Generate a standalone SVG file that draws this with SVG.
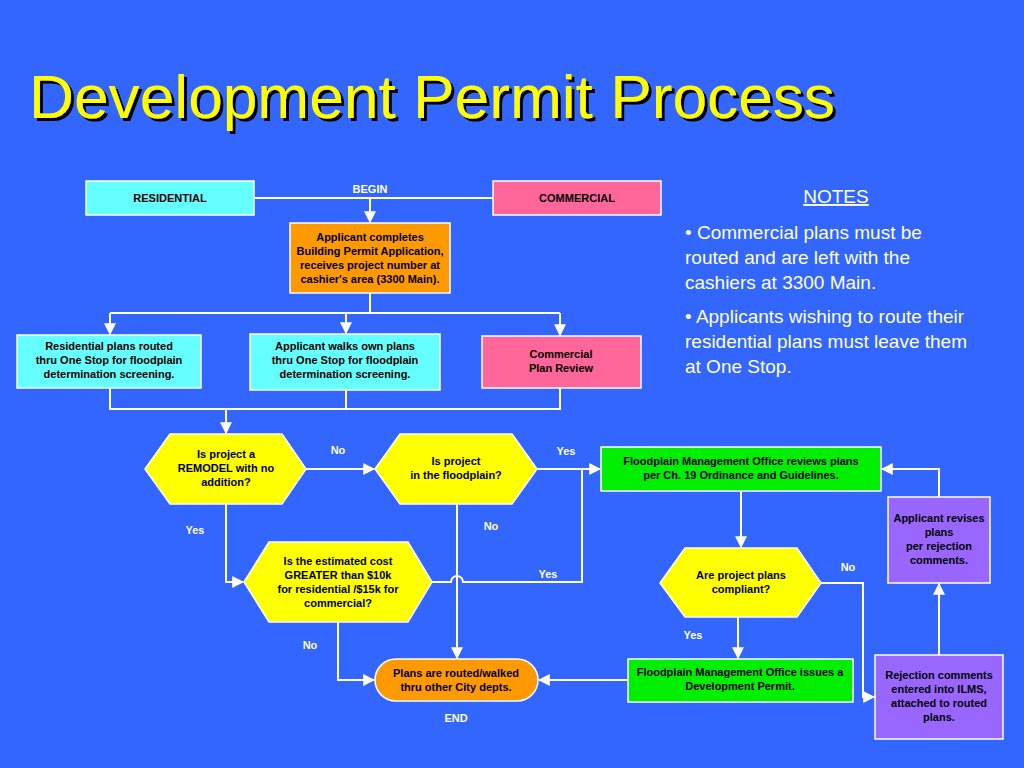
<svg xmlns="http://www.w3.org/2000/svg" width="1024" height="768" viewBox="0 0 1024 768">
<defs>
<marker id="ah2" viewBox="0 0 10 10" refX="9" refY="5" markerWidth="12" markerHeight="12" orient="auto" markerUnits="userSpaceOnUse"><path d="M0,0 L10,5 L0,10 z" fill="#fff"/></marker>
<filter id="sh" x="-5%" y="-20%" width="110%" height="140%"><feDropShadow dx="3" dy="3" stdDeviation="0" flood-color="#000"/></filter>
<style>
.n{stroke:#fff;stroke-width:1.5}
.t{font-family:"Liberation Sans",Arial,sans-serif;font-weight:bold;font-size:11px;fill:#000;text-anchor:middle}
.l{font-family:"Liberation Sans",Arial,sans-serif;font-weight:bold;font-size:11px;fill:#fff;text-anchor:middle}
.c{fill:none;stroke:#fff;stroke-width:2}
.nt{font-family:"Liberation Sans",Arial,sans-serif;font-size:19px;fill:#fff}
</style>
</defs>
<rect width="1024" height="768" fill="#3366ff"/>
<text x="29" y="118" font-family="Liberation Sans,Arial,sans-serif" font-size="61" fill="#ffff00" filter="url(#sh)" textLength="806" lengthAdjust="spacingAndGlyphs">Development Permit Process</text>
<g id="connectors">
<path class="c" d="M254,198 H493"/>
<path class="c" d="M370,198 V222" marker-end="url(#ah2)"/>
<path class="c" d="M370,293 V313 M110,313 H560"/>
<path class="c" d="M110,313 V334" marker-end="url(#ah2)"/>
<path class="c" d="M346,313 V333" marker-end="url(#ah2)"/>
<path class="c" d="M560,313 V335" marker-end="url(#ah2)"/>
<path class="c" d="M110,388 V409 H560 V388 M346,390 V409"/>
<path class="c" d="M226,409 V433" marker-end="url(#ah2)"/>
<path class="c" d="M306,469 H374" marker-end="url(#ah2)"/>
<path class="c" d="M537,469 H600" marker-end="url(#ah2)"/>
<path class="c" d="M226,504 V582 H243" marker-end="url(#ah2)"/>
<path class="c" d="M432,582 H451 A6,6 0 0 1 463,582 H582 V469"/>
<path class="c" d="M457,504 V658" marker-end="url(#ah2)"/>
<path class="c" d="M338,622 V680 H374" marker-end="url(#ah2)"/>
<path class="c" d="M628,680 H539" marker-end="url(#ah2)"/>
<path class="c" d="M741,491 V547" marker-end="url(#ah2)"/>
<path class="c" d="M738,617 V658" marker-end="url(#ah2)"/>
<path class="c" d="M821,583 H863 V697 H874" marker-end="url(#ah2)"/>
<path class="c" d="M939,655 V584" marker-end="url(#ah2)"/>
<path class="c" d="M939,497 V469 H882" marker-end="url(#ah2)"/>
</g>
<g id="labels">
<text class="l" x="370" y="193">BEGIN</text>
<text class="l" x="338" y="454">No</text>
<text class="l" x="566" y="455">Yes</text>
<text class="l" x="195" y="534">Yes</text>
<text class="l" x="491" y="530">No</text>
<text class="l" x="548" y="578">Yes</text>
<text class="l" x="310" y="649">No</text>
<text class="l" x="456" y="722">END</text>
<text class="l" x="848" y="571">No</text>
<text class="l" x="693" y="639">Yes</text>
</g>
<g id="residential"><rect class="n" x="86" y="181" width="168" height="34" fill="#66ffff"/><text class="t" x="170" y="202">RESIDENTIAL</text></g>
<g id="commercial"><rect class="n" x="493" y="181" width="168" height="34" fill="#ff6699"/><text class="t" x="577" y="202">COMMERCIAL</text></g>
<g id="apply"><rect class="n" x="290" y="223" width="160" height="70" fill="#ff9900"/>
<text class="t" x="370" y="241">Applicant completes</text><text class="t" x="370" y="255">Building Permit Application,</text><text class="t" x="370" y="269">receives project number at</text><text class="t" x="370" y="283">cashier's area (3300 Main).</text></g>
<g id="resrouted"><rect class="n" x="17" y="335" width="184" height="53" fill="#66ffff"/>
<text class="t" x="109" y="350">Residential plans routed</text><text class="t" x="109" y="364">thru One Stop for floodplain</text><text class="t" x="109" y="378">determination screening.</text></g>
<g id="walks"><rect class="n" x="250" y="334" width="190" height="56" fill="#66ffff"/>
<text class="t" x="345" y="350">Applicant walks own plans</text><text class="t" x="345" y="364">thru One Stop for floodplain</text><text class="t" x="345" y="378">determination screening.</text></g>
<g id="comreview"><rect class="n" x="482" y="336" width="159" height="52" fill="#ff6699"/>
<text class="t" x="561" y="358">Commercial</text><text class="t" x="561" y="372">Plan Review</text></g>
<g id="remodel"><polygon class="n" points="145,469 170,434 282,434 306,469 282,504 170,504" fill="#ffff00"/>
<text class="t" x="226" y="458">Is project a</text><text class="t" x="226" y="472">REMODEL with no</text><text class="t" x="226" y="486">addition?</text></g>
<g id="floodplain"><polygon class="n" points="375,469 400,434 512,434 537,469 512,504 400,504" fill="#ffff00"/>
<text class="t" x="456" y="465">Is project</text><text class="t" x="456" y="479">in the floodplain?</text></g>
<g id="cost"><polygon class="n" points="244,582 269,542 408,542 432,582 408,622 269,622" fill="#ffff00"/>
<text class="t" x="338" y="565">Is the estimated cost</text><text class="t" x="338" y="579">GREATER than $10k</text><text class="t" x="338" y="593">for residential /$15k for</text><text class="t" x="338" y="607">commercial?</text></g>
<g id="routed"><rect class="n" x="375" y="659" width="163" height="42" rx="21" fill="#ff9900"/>
<text class="t" x="456" y="677">Plans are routed/walked</text><text class="t" x="456" y="691">thru other City depts.</text></g>
<g id="fmoreview"><rect class="n" x="601" y="447" width="280" height="44" fill="#00ee00"/>
<text class="t" x="741" y="465">Floodplain Management Office reviews plans</text><text class="t" x="741" y="479">per Ch. 19 Ordinance and Guidelines.</text></g>
<g id="compliant"><polygon class="n" points="660,583 685,548 797,548 821,583 797,617 685,617" fill="#ffff00"/>
<text class="t" x="741" y="579">Are project plans</text><text class="t" x="741" y="593">compliant?</text></g>
<g id="issues"><rect class="n" x="628" y="659" width="225" height="43" fill="#00ee00"/>
<text class="t" x="740" y="676">Floodplain Management Office issues a</text><text class="t" x="740" y="690">Development Permit.</text></g>
<g id="rejection"><rect class="n" x="875" y="655" width="128" height="84" fill="#9966ff"/>
<text class="t" x="939" y="679">Rejection comments</text><text class="t" x="939" y="693">entered into ILMS,</text><text class="t" x="939" y="707">attached to routed</text><text class="t" x="939" y="721">plans.</text></g>
<g id="revise"><rect class="n" x="888" y="497" width="102" height="86" fill="#9966ff"/>
<text class="t" x="939" y="522">Applicant revises</text><text class="t" x="939" y="536">plans</text><text class="t" x="939" y="550">per rejection</text><text class="t" x="939" y="564">comments.</text></g>
<g id="notes">
<text class="nt" x="836" y="203" text-anchor="middle" text-decoration="underline">NOTES</text>
<text class="nt" x="685" y="239">• Commercial plans must be</text>
<text class="nt" x="685" y="264">routed and are left with the</text>
<text class="nt" x="685" y="289">cashiers at 3300 Main.</text>
<text class="nt" x="685" y="323">• Applicants wishing to route their</text>
<text class="nt" x="685" y="348">residential plans must leave them</text>
<text class="nt" x="685" y="373">at One Stop.</text>
</g>
</svg>
